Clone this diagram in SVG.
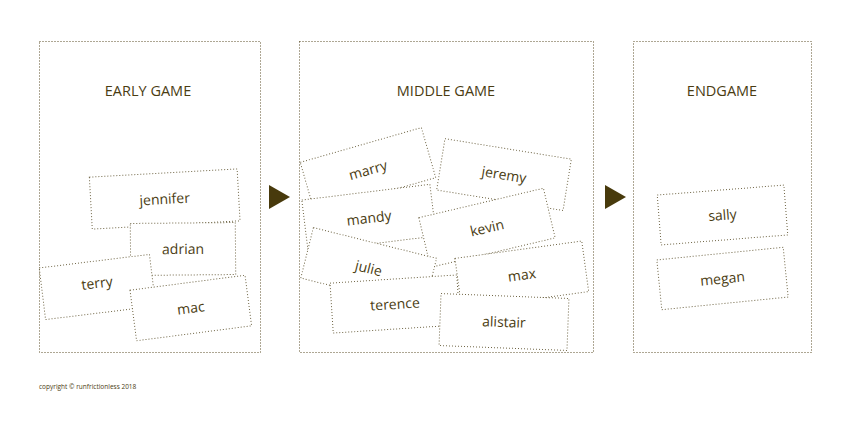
<svg xmlns="http://www.w3.org/2000/svg" width="850" height="425" viewBox="0 0 850 425">
<style>
.panel{fill:none;stroke:#5c4f28;stroke-width:1;stroke-dasharray:1 2}
.card rect{fill:#fff;stroke:#6f6545;stroke-width:1;stroke-dasharray:1 2}
.card text{font-family:"Open Sans","Noto Sans",sans-serif;font-size:14px;fill:#4a3c12;text-anchor:middle}
.title{font-family:"Open Sans","Noto Sans",sans-serif;font-size:14.5px;fill:#4a3c12;text-anchor:middle}
.arrow{fill:#483a0c}
</style>
<rect width="850" height="425" fill="#fff"/>
<g id="panels">
<rect class="panel" x="39.5" y="41.5" width="221" height="311"/>
<rect class="panel" x="299.5" y="41.5" width="294" height="311"/>
<rect class="panel" x="633.5" y="41.5" width="178" height="311"/>
<text class="title" x="148" y="96">EARLY GAME</text>
<text class="title" x="446" y="96">MIDDLE GAME</text>
<text class="title" x="722" y="96">ENDGAME</text>
</g>
<g id="connectors">
<polygon class="arrow" points="269,185 290,197 269,209"/>
<polygon class="arrow" points="605,185 626,197 605,209"/>
</g>
<g id="jennifer" class="card" transform="translate(164.7,199) rotate(-3.2)"><rect x="-74" y="-26" width="148" height="52"/><text y="5">jennifer</text></g>
<g id="adrian" class="card" transform="translate(183,249) rotate(-0.5)"><rect x="-52.5" y="-26" width="105" height="52"/><text y="5">adrian</text></g>
<g id="terry" class="card" transform="translate(97.5,287) rotate(-7)"><rect x="-55.5" y="-26" width="111" height="52"/><text y="1">terry</text></g>
<g id="mac" class="card" transform="translate(190.8,308) rotate(-7.4)"><rect x="-58" y="-25.5" width="116" height="51"/><text y="5">mac</text></g>
<g id="marry" class="card" transform="translate(368,170) rotate(-16)"><rect x="-63" y="-26" width="126" height="52"/><text y="5">marry</text></g>
<g id="jeremy" class="card" transform="translate(504,174.6) rotate(9.2)"><rect x="-64" y="-26" width="128" height="52"/><text y="5">jeremy</text></g>
<g id="mandy" class="card" transform="translate(369,218) rotate(-7)"><rect x="-64.5" y="-26" width="129" height="52"/><text y="5">mandy</text></g>
<g id="kevin" class="card" transform="translate(487,227.8) rotate(-13.3)"><rect x="-64" y="-25.5" width="128" height="51"/><text y="5">kevin</text></g>
<g id="julie" class="card" transform="translate(368.7,268.2) rotate(14)"><rect x="-63.5" y="-26" width="127" height="52"/><text y="5">julie</text></g>
<g id="max" class="card" transform="translate(521.8,275) rotate(-7.8)"><rect x="-64" y="-25.5" width="128" height="51"/><text y="5">max</text></g>
<g id="terence" class="card" transform="translate(395,304) rotate(-3.7)"><rect x="-63.5" y="-25" width="127" height="50"/><text y="5">terence</text></g>
<g id="alistair" class="card" transform="translate(504,322) rotate(2.2)"><rect x="-64" y="-26" width="128" height="52"/><text y="5">alistair</text></g>
<g id="sally" class="card" transform="translate(722.5,215) rotate(-4.5)"><rect x="-63.5" y="-25" width="127" height="50"/><text y="5">sally</text></g>
<g id="megan" class="card" transform="translate(722.5,278.5) rotate(-5.7)"><rect x="-63.5" y="-25" width="127" height="50"/><text y="5">megan</text></g>
<text x="39" y="389" font-family="'Open Sans','Noto Sans',sans-serif" font-size="6.5" fill="#4a3c12">copyright © runfrictionless 2018</text>
</svg>
